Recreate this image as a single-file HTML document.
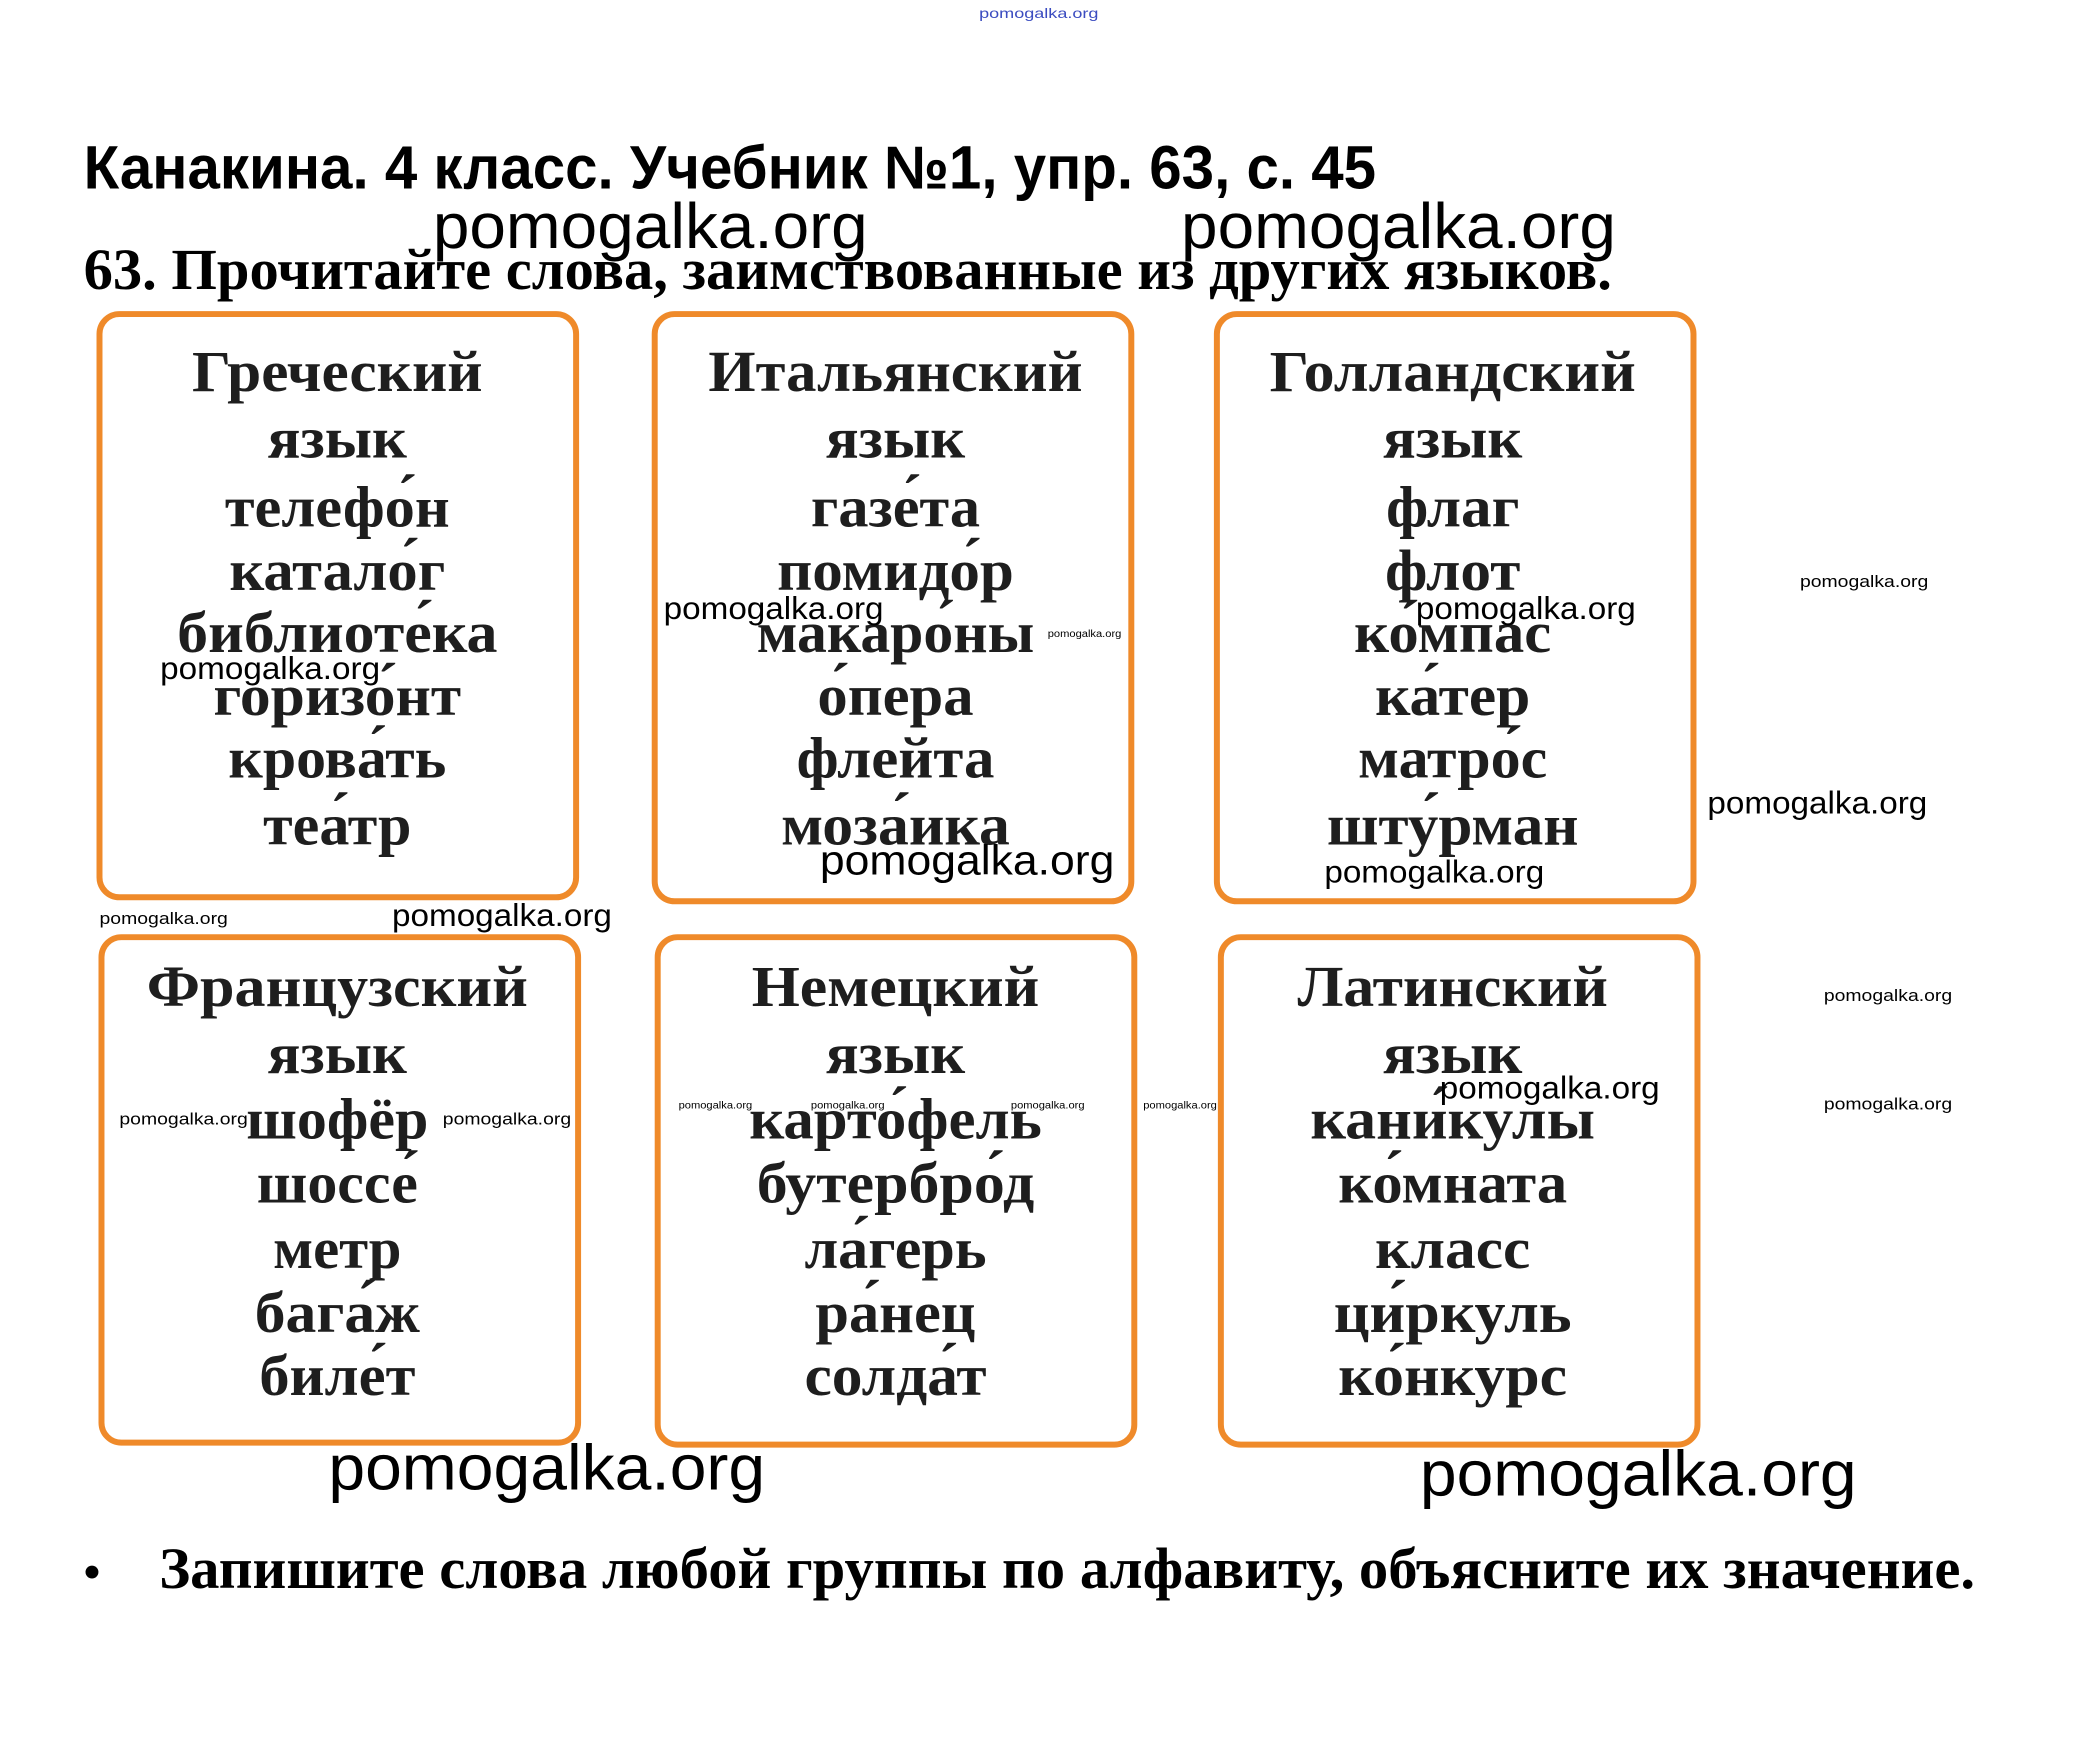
<!DOCTYPE html>
<html><head><meta charset="utf-8"><style>
html,body{margin:0;padding:0;background:#fff;}
svg{display:block}
.wm{font-family:"Liberation Sans",sans-serif;fill:#000}
.bx{fill:#fff;stroke:#ef8a2a;stroke-width:6}
.w{font-family:"Liberation Serif",serif;font-weight:bold;font-size:58px;fill:#1e1e1e;text-anchor:middle}
</style></head><body>
<svg width="2074" height="1741" viewBox="0 0 2074 1741" xmlns="http://www.w3.org/2000/svg">
<g transform="scale(0.995 0.997)">
<text x="984" y="18" font-family="Liberation Sans,sans-serif" font-size="14" fill="#3b4cc0" textLength="120" lengthAdjust="spacingAndGlyphs">pomogalka.org</text>
<text x="84" y="189" font-family="Liberation Sans,sans-serif" font-weight="bold" font-size="61" textLength="1299" lengthAdjust="spacingAndGlyphs">Канакина. 4 класс. Учебник №1, упр. 63, с. 45</text>
<text class="wm" x="435" y="249" font-size="64" textLength="437" lengthAdjust="spacingAndGlyphs">pomogalka.org</text>
<text class="wm" x="1187" y="249" font-size="64" textLength="437" lengthAdjust="spacingAndGlyphs">pomogalka.org</text>
<text x="84" y="290" font-family="Liberation Serif,serif" font-weight="bold" font-size="58" textLength="1536" lengthAdjust="spacingAndGlyphs">63. Прочитайте слова, заимствованные из других языков.</text>

<rect class="bx" x="100" y="315" width="479" height="585" rx="20"/>
<rect class="bx" x="658" y="315" width="479" height="589" rx="20"/>
<rect class="bx" x="1223" y="315" width="479" height="589" rx="20"/>
<rect class="bx" x="102" y="940" width="479" height="507" rx="20"/>
<rect class="bx" x="661" y="940" width="479" height="509" rx="20"/>
<rect class="bx" x="1227" y="940" width="479" height="509" rx="20"/>

<g class="w">
<text x="339" y="392" textLength="292" lengthAdjust="spacingAndGlyphs">Греческий</text>
<text x="339" y="459" textLength="140" lengthAdjust="spacingAndGlyphs">язык</text>
<text x="339" y="528" textLength="226" lengthAdjust="spacingAndGlyphs">телефо́н</text>
<text x="339" y="592" textLength="217" lengthAdjust="spacingAndGlyphs">катало́г</text>
<text x="339" y="654" textLength="322" lengthAdjust="spacingAndGlyphs">библиоте́ка</text>
<text x="339" y="717" textLength="249" lengthAdjust="spacingAndGlyphs">горизо́нт</text>
<text x="339" y="780" textLength="219" lengthAdjust="spacingAndGlyphs">крова́ть</text>
<text x="339" y="847" textLength="149" lengthAdjust="spacingAndGlyphs">теа́тр</text>

<text x="900" y="392" textLength="376" lengthAdjust="spacingAndGlyphs">Итальянский</text>
<text x="900" y="459" textLength="140" lengthAdjust="spacingAndGlyphs">язык</text>
<text x="900" y="528" textLength="170" lengthAdjust="spacingAndGlyphs">газе́та</text>
<text x="900" y="592" textLength="238" lengthAdjust="spacingAndGlyphs">помидо́р</text>
<text x="900" y="654" textLength="279" lengthAdjust="spacingAndGlyphs">макаро́ны</text>
<text x="900" y="717" textLength="157" lengthAdjust="spacingAndGlyphs">о́пера</text>
<text x="900" y="780" textLength="199" lengthAdjust="spacingAndGlyphs">флейта</text>
<text x="900" y="847" textLength="230" lengthAdjust="spacingAndGlyphs">моза́ика</text>

<text x="1460" y="392" textLength="368" lengthAdjust="spacingAndGlyphs">Голландский</text>
<text x="1460" y="459" textLength="140" lengthAdjust="spacingAndGlyphs">язык</text>
<text x="1460" y="528" textLength="134" lengthAdjust="spacingAndGlyphs">флаг</text>
<text x="1460" y="592" textLength="136" lengthAdjust="spacingAndGlyphs">флот</text>
<text x="1460" y="654" textLength="198" lengthAdjust="spacingAndGlyphs">ко́мпас</text>
<text x="1460" y="717" textLength="156" lengthAdjust="spacingAndGlyphs">ка́тер</text>
<text x="1460" y="780" textLength="190" lengthAdjust="spacingAndGlyphs">матро́с</text>
<text x="1460" y="847" textLength="253" lengthAdjust="spacingAndGlyphs">шту́рман</text>

<text x="339" y="1009" textLength="383" lengthAdjust="spacingAndGlyphs">Французский</text>
<text x="339" y="1076" textLength="140" lengthAdjust="spacingAndGlyphs">язык</text>
<text x="339" y="1142" textLength="183" lengthAdjust="spacingAndGlyphs">шофёр</text>
<text x="339" y="1206" textLength="162" lengthAdjust="spacingAndGlyphs">шоссе́</text>
<text x="339" y="1272" textLength="129" lengthAdjust="spacingAndGlyphs">метр</text>
<text x="339" y="1336" textLength="166" lengthAdjust="spacingAndGlyphs">бага́ж</text>
<text x="339" y="1399" textLength="157" lengthAdjust="spacingAndGlyphs">биле́т</text>

<text x="900" y="1009" textLength="289" lengthAdjust="spacingAndGlyphs">Немецкий</text>
<text x="900" y="1076" textLength="140" lengthAdjust="spacingAndGlyphs">язык</text>
<text x="900" y="1142" textLength="294" lengthAdjust="spacingAndGlyphs">карто́фель</text>
<text x="900" y="1206" textLength="279" lengthAdjust="spacingAndGlyphs">бутербро́д</text>
<text x="900" y="1272" textLength="183" lengthAdjust="spacingAndGlyphs">ла́герь</text>
<text x="900" y="1336" textLength="161" lengthAdjust="spacingAndGlyphs">ра́нец</text>
<text x="900" y="1399" textLength="183" lengthAdjust="spacingAndGlyphs">солда́т</text>

<text x="1460" y="1009" textLength="312" lengthAdjust="spacingAndGlyphs">Латинский</text>
<text x="1460" y="1076" textLength="140" lengthAdjust="spacingAndGlyphs">язык</text>
<text x="1460" y="1142" textLength="286" lengthAdjust="spacingAndGlyphs">кани́кулы</text>
<text x="1460" y="1206" textLength="230" lengthAdjust="spacingAndGlyphs">ко́мната</text>
<text x="1460" y="1272" textLength="156" lengthAdjust="spacingAndGlyphs">класс</text>
<text x="1460" y="1336" textLength="239" lengthAdjust="spacingAndGlyphs">ци́ркуль</text>
<text x="1460" y="1399" textLength="230" lengthAdjust="spacingAndGlyphs">ко́нкурс</text>
</g>

<g class="wm">
<text x="667" y="621" font-size="32" textLength="221" lengthAdjust="spacingAndGlyphs">pomogalka.org</text>
<text x="1423" y="621" font-size="32" textLength="221" lengthAdjust="spacingAndGlyphs">pomogalka.org</text>
<text x="161" y="681" font-size="32" textLength="221" lengthAdjust="spacingAndGlyphs">pomogalka.org</text>
<text x="1716" y="816" font-size="32" textLength="221" lengthAdjust="spacingAndGlyphs">pomogalka.org</text>
<text x="824" y="877" font-size="42" textLength="296" lengthAdjust="spacingAndGlyphs">pomogalka.org</text>
<text x="1331" y="885" font-size="32" textLength="221" lengthAdjust="spacingAndGlyphs">pomogalka.org</text>
<text x="394" y="929" font-size="32" textLength="221" lengthAdjust="spacingAndGlyphs">pomogalka.org</text>
<text x="1447" y="1102" font-size="32" textLength="221" lengthAdjust="spacingAndGlyphs">pomogalka.org</text>

<text x="1809" y="589" font-size="17" textLength="129" lengthAdjust="spacingAndGlyphs">pomogalka.org</text>
<text x="100" y="927" font-size="17" textLength="129" lengthAdjust="spacingAndGlyphs">pomogalka.org</text>
<text x="1833" y="1004" font-size="17" textLength="129" lengthAdjust="spacingAndGlyphs">pomogalka.org</text>
<text x="120" y="1128" font-size="17" textLength="129" lengthAdjust="spacingAndGlyphs">pomogalka.org</text>
<text x="445" y="1128" font-size="17" textLength="129" lengthAdjust="spacingAndGlyphs">pomogalka.org</text>
<text x="1833" y="1113" font-size="17" textLength="129" lengthAdjust="spacingAndGlyphs">pomogalka.org</text>

<text x="1053" y="639" font-size="10" textLength="74" lengthAdjust="spacingAndGlyphs">pomogalka.org</text>
<text x="682" y="1112" font-size="10" textLength="74" lengthAdjust="spacingAndGlyphs">pomogalka.org</text>
<text x="815" y="1112" font-size="10" textLength="74" lengthAdjust="spacingAndGlyphs">pomogalka.org</text>
<text x="1016" y="1112" font-size="10" textLength="74" lengthAdjust="spacingAndGlyphs">pomogalka.org</text>
<text x="1149" y="1112" font-size="10" textLength="74" lengthAdjust="spacingAndGlyphs">pomogalka.org</text>

<text x="330" y="1494" font-size="64" textLength="439" lengthAdjust="spacingAndGlyphs">pomogalka.org</text>
<text x="1427" y="1500" font-size="64" textLength="439" lengthAdjust="spacingAndGlyphs">pomogalka.org</text>
</g>

<text x="84" y="1593" font-family="Liberation Serif,serif" font-weight="bold" font-size="48">•</text>
<text x="160" y="1593" font-family="Liberation Serif,serif" font-weight="bold" font-size="58" textLength="1825" lengthAdjust="spacingAndGlyphs">Запишите слова любой группы по алфавиту, объясните их значение.</text>
</g>
</svg>
</body></html>
